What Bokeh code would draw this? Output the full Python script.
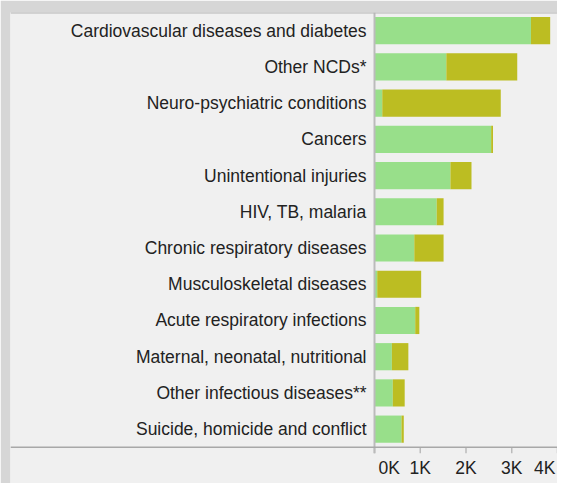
from bokeh.plotting import figure
from bokeh.models import FactorRange, Range1d, Span, ColumnDataSource
from bokeh.core.properties import value
from bokeh.embed import file_html
from bokeh.resources import INLINE

# ---- data ----
categories = [
    "Cardiovascular diseases and diabetes",
    "Other NCDs*",
    "Neuro-psychiatric conditions",
    "Cancers",
    "Unintentional injuries",
    "HIV, TB, malaria",
    "Chronic respiratory diseases",
    "Musculoskeletal diseases",
    "Acute respiratory infections",
    "Maternal, neonatal, nutritional",
    "Other infectious diseases**",
    "Suicide, homicide and conflict",
]
series_green = [3420, 1570, 170, 2550, 1660, 1360, 870, 60, 890, 380, 400, 590]
series_olive = [420, 1550, 2590, 40, 460, 150, 640, 960, 90, 360, 260, 50]
tick_values = [0, 1000, 2000, 3000, 4000]
tick_labels = ["0K", "1K", "2K", "3K", "4K"]

# ---- layout constants ----
W, H = 557, 483
LEFT, TOP = 10, 12
ZERO_PX = 364            # x = 0 position inside the frame (pixels)
frame_w = W - LEFT
frame_h = H - TOP
x_end = tick_values[-1]
x_start = -x_end * ZERO_PX / (frame_w - ZERO_PX)

BLANK = " "              # empty band at the bottom that holds the tick labels
factors = [BLANK] + list(reversed(categories))
n_bands = len(factors)
band_px = frame_h / n_bands
tick_len = 6 / band_px   # tick length in band units

FONT = "Liberation Sans"
FS = "17.5px"
TXT = "#222222"

totals = [g + o for g, o in zip(series_green, series_olive)]
src = ColumnDataSource(dict(cat=categories, green=series_green, total=totals))

p = figure(
    width=W, height=H,
    y_range=FactorRange(factors=factors, range_padding=0),
    x_range=Range1d(x_start, x_end),
    output_backend="svg", toolbar_location=None,
    min_border_left=LEFT, min_border_right=0,
    min_border_top=TOP, min_border_bottom=0,
    background_fill_color="#f0f0f0", border_fill_color="#d6d6d6",
)
p.outline_line_color = None
p.xgrid.visible = False
p.ygrid.visible = False
p.xaxis.visible = False
p.yaxis.visible = False

# bars
p.hbar(y="cat", left=0, right="green", height=0.75, source=src,
       fill_color="#98df8a", line_color=None)
p.hbar(y="cat", left="green", right="total", height=0.75, source=src,
       fill_color="#bcbd22", line_color=None)

# panel top border and x-axis baseline
p.add_layout(Span(location=n_bands, dimension="width", line_color="#b4b4b4", line_width=2))
p.add_layout(Span(location=1, dimension="width", line_color="#a8a8a8", line_width=1.5))

# y-axis line (down through the 0 tick) and x ticks
p.segment(x0=[0], y0=[n_bands], x1=[0], y1=[1 - tick_len],
          line_color="#bbbbbb", line_width=2)
p.segment(x0=tick_values, y0=[1] * len(tick_values), x1=tick_values,
          y1=[1 - tick_len] * len(tick_values), line_color="#bbbbbb", line_width=1.5)

# category labels
p.text(x=0, y="cat", text="cat", source=src, x_offset=-8,
       text_align="right", text_baseline="middle",
       text_font=value(FONT), text_font_size=value(FS), text_color=TXT)

# x tick labels (first left-aligned, last right-aligned, as in the reference)
common = dict(text_baseline="middle", text_font=value(FONT),
              text_font_size=value(FS), text_color=TXT, y_offset=3)
p.text(x=tick_values[:1], y=[0.5], text=tick_labels[:1], x_offset=4,
       text_align="left", **common)
p.text(x=tick_values[1:-1], y=[0.5] * (len(tick_values) - 2), text=tick_labels[1:-1],
       text_align="center", **common)
p.text(x=tick_values[-1:], y=[0.5], text=tick_labels[-1:], x_offset=-2,
       text_align="right", **common)

open("out.html", "w").write(file_html(p, INLINE))
